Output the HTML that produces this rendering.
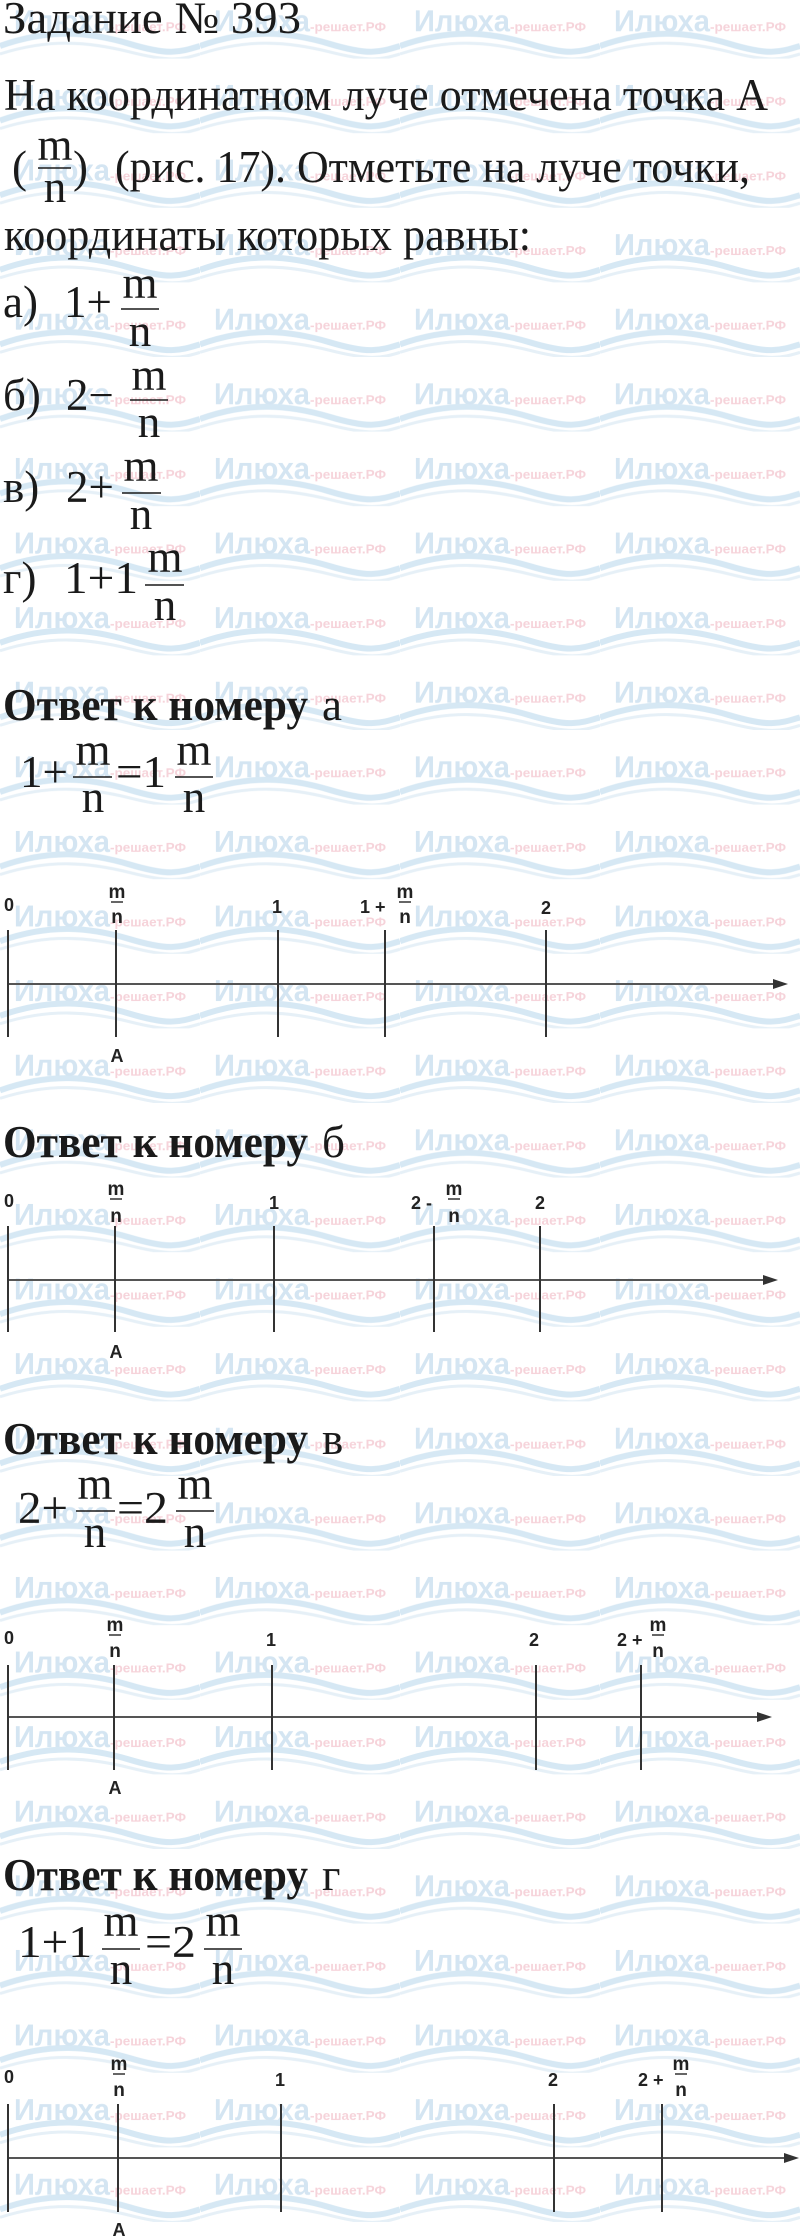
<!DOCTYPE html>
<html><head><meta charset="utf-8"><style>
html,body{margin:0;padding:0;background:#fff}
svg{display:block}
.s{font-family:"Liberation Serif",serif;font-size:45px;fill:#1a1a1a}
.b{font-weight:bold}
.a{font-family:"Liberation Sans",sans-serif;font-weight:bold;font-size:18px;fill:#222}
.af{font-family:"Liberation Sans",sans-serif;font-weight:bold;font-size:19px;fill:#222}
</style></head><body>
<svg width="800" height="2240" viewBox="0 0 800 2240" xmlns="http://www.w3.org/2000/svg">
<defs>
<pattern id="wm" x="0" y="-16" width="200" height="74.6" patternUnits="userSpaceOnUse">
<path d="M0 62 C50 44 90 48 130 60 S180 68 200 62" fill="none" stroke="#d6e8f4" stroke-width="6"/>
<path d="M0 70 C50 54 90 58 130 68 S180 76 200 70" fill="none" stroke="#e6f0f7" stroke-width="3"/>
<text x="14" y="47" font-family="Liberation Sans,sans-serif" font-weight="bold" font-size="30" fill="#d4e5f2" textLength="96" lengthAdjust="spacingAndGlyphs">Илюха</text>
<text x="110" y="47" font-family="Liberation Sans,sans-serif" font-weight="bold" font-size="13" fill="#f6d3da" textLength="76" lengthAdjust="spacingAndGlyphs">-решает.РФ</text>
</pattern>
</defs>
<rect width="800" height="2240" fill="url(#wm)"/>

<!-- problem text -->
<text class="s" x="3" y="33" textLength="298" lengthAdjust="spacingAndGlyphs">Задание № 393</text>
<text class="s" x="4" y="110" textLength="764" lengthAdjust="spacingAndGlyphs">На координатном луче отмечена точка А</text>
<text class="s" x="12" y="182" font-size="48">(</text>
<text class="s" x="55" y="160" text-anchor="middle">m</text>
<line x1="38" y1="168" x2="71" y2="168" stroke="#1a1a1a" stroke-width="1.6"/>
<text class="s" x="55" y="202" text-anchor="middle">n</text>
<text class="s" x="73" y="182" font-size="48">)</text>
<text class="s" x="115" y="182" textLength="635" lengthAdjust="spacingAndGlyphs">(рис. 17). Отметьте на луче точки,</text>
<text class="s" x="4" y="250" textLength="527" lengthAdjust="spacingAndGlyphs">координаты которых равны:</text>

<text class="s" x="3" y="317">а)</text>
<text class="s" x="64" y="317">1+</text>
<text class="s" x="140" y="298" text-anchor="middle">m</text>
<line x1="121" y1="309" x2="159" y2="309" stroke="#1a1a1a" stroke-width="1.6"/>
<text class="s" x="140" y="346" text-anchor="middle">n</text>

<text class="s" x="3" y="410">б)</text>
<text class="s" x="66" y="410">2−</text>
<text class="s" x="149" y="390" text-anchor="middle">m</text>
<line x1="130" y1="400" x2="168" y2="400" stroke="#1a1a1a" stroke-width="1.6"/>
<text class="s" x="149" y="437" text-anchor="middle">n</text>

<text class="s" x="3" y="502">в)</text>
<text class="s" x="66" y="502">2+</text>
<text class="s" x="141" y="481" text-anchor="middle">m</text>
<line x1="122" y1="493" x2="161" y2="493" stroke="#1a1a1a" stroke-width="1.6"/>
<text class="s" x="141" y="529" text-anchor="middle">n</text>

<text class="s" x="3" y="593">г)</text>
<text class="s" x="64" y="593" textLength="74" lengthAdjust="spacingAndGlyphs">1+1</text>
<text class="s" x="165" y="572" text-anchor="middle">m</text>
<line x1="145" y1="585" x2="184" y2="585" stroke="#1a1a1a" stroke-width="1.6"/>
<text class="s" x="165" y="620" text-anchor="middle">n</text>

<!-- answer a -->
<text class="s b" x="3" y="720" textLength="305" lengthAdjust="spacingAndGlyphs">Ответ к номеру</text>
<text class="s" x="322" y="720">а</text>
<text class="s" x="20" y="787" textLength="48" lengthAdjust="spacingAndGlyphs">1+</text>
<text class="s" x="93" y="765" text-anchor="middle">m</text>
<line x1="73" y1="777" x2="112" y2="777" stroke="#1a1a1a" stroke-width="1.6"/>
<text class="s" x="93" y="812" text-anchor="middle">n</text>
<text class="s" x="116" y="787" textLength="50" lengthAdjust="spacingAndGlyphs">=1</text>
<text class="s" x="194" y="765" text-anchor="middle">m</text>
<line x1="175" y1="777" x2="213" y2="777" stroke="#1a1a1a" stroke-width="1.6"/>
<text class="s" x="194" y="812" text-anchor="middle">n</text>

<g stroke="#333" stroke-width="2">
<line x1="8" y1="984" x2="778" y2="984" stroke="#555"/>
<line x1="8" y1="930" x2="8" y2="1037"/>
<line x1="116" y1="930" x2="116" y2="1037"/>
<line x1="278" y1="930" x2="278" y2="1037"/>
<line x1="385" y1="930" x2="385" y2="1037"/>
<line x1="546" y1="930" x2="546" y2="1037"/>
</g>
<polygon points="773,979 788,984 773,989" fill="#333"/>
<text class="a" x="4" y="911">0</text>
<text class="af" x="117" y="898" text-anchor="middle">m</text>
<line x1="111" y1="902" x2="123" y2="902" stroke="#333" stroke-width="1.5"/>
<text class="af" x="117" y="923" text-anchor="middle">n</text>
<text class="a" x="277" y="913" text-anchor="middle">1</text>
<text class="a" x="360" y="913">1 +</text>
<text class="af" x="405" y="898" text-anchor="middle">m</text>
<line x1="399" y1="902" x2="411" y2="902" stroke="#333" stroke-width="1.5"/>
<text class="af" x="405" y="923" text-anchor="middle">n</text>
<text class="a" x="546" y="914" text-anchor="middle">2</text>
<text class="a" x="117" y="1062" text-anchor="middle">A</text>

<!-- answer b -->
<text class="s b" x="3" y="1157" textLength="305" lengthAdjust="spacingAndGlyphs">Ответ к номеру</text>
<text class="s" x="322" y="1157">б</text>
<g stroke="#333" stroke-width="2">
<line x1="8" y1="1280" x2="768" y2="1280" stroke="#555"/>
<line x1="8" y1="1226" x2="8" y2="1332"/>
<line x1="115" y1="1226" x2="115" y2="1332"/>
<line x1="274" y1="1226" x2="274" y2="1332"/>
<line x1="434" y1="1226" x2="434" y2="1332"/>
<line x1="540" y1="1226" x2="540" y2="1332"/>
</g>
<polygon points="763,1275 778,1280 763,1285" fill="#333"/>
<text class="a" x="4" y="1207">0</text>
<text class="af" x="116" y="1195" text-anchor="middle">m</text>
<line x1="110" y1="1199" x2="122" y2="1199" stroke="#333" stroke-width="1.5"/>
<text class="af" x="116" y="1222" text-anchor="middle">n</text>
<text class="a" x="274" y="1209" text-anchor="middle">1</text>
<text class="a" x="411" y="1209">2 -</text>
<text class="af" x="454" y="1195" text-anchor="middle">m</text>
<line x1="448" y1="1199" x2="460" y2="1199" stroke="#333" stroke-width="1.5"/>
<text class="af" x="454" y="1222" text-anchor="middle">n</text>
<text class="a" x="540" y="1209" text-anchor="middle">2</text>
<text class="a" x="116" y="1358" text-anchor="middle">A</text>

<!-- answer v -->
<text class="s b" x="3" y="1454" textLength="305" lengthAdjust="spacingAndGlyphs">Ответ к номеру</text>
<text class="s" x="322" y="1454">в</text>
<text class="s" x="18" y="1523" textLength="50" lengthAdjust="spacingAndGlyphs">2+</text>
<text class="s" x="95" y="1499" text-anchor="middle">m</text>
<line x1="76" y1="1511" x2="115" y2="1511" stroke="#1a1a1a" stroke-width="1.6"/>
<text class="s" x="95" y="1547" text-anchor="middle">n</text>
<text class="s" x="117" y="1523" textLength="51" lengthAdjust="spacingAndGlyphs">=2</text>
<text class="s" x="195" y="1499" text-anchor="middle">m</text>
<line x1="176" y1="1511" x2="214" y2="1511" stroke="#1a1a1a" stroke-width="1.6"/>
<text class="s" x="195" y="1547" text-anchor="middle">n</text>

<g stroke="#333" stroke-width="2">
<line x1="8" y1="1717" x2="760" y2="1717" stroke="#555"/>
<line x1="8" y1="1665" x2="8" y2="1770"/>
<line x1="114" y1="1665" x2="114" y2="1770"/>
<line x1="272" y1="1665" x2="272" y2="1770"/>
<line x1="536" y1="1665" x2="536" y2="1770"/>
<line x1="641" y1="1665" x2="641" y2="1770"/>
</g>
<polygon points="757,1712 772,1717 757,1722" fill="#333"/>
<text class="a" x="4" y="1644">0</text>
<text class="af" x="115" y="1631" text-anchor="middle">m</text>
<line x1="109" y1="1635" x2="121" y2="1635" stroke="#333" stroke-width="1.5"/>
<text class="af" x="115" y="1657" text-anchor="middle">n</text>
<text class="a" x="271" y="1646" text-anchor="middle">1</text>
<text class="a" x="534" y="1646" text-anchor="middle">2</text>
<text class="a" x="617" y="1646">2 +</text>
<text class="af" x="658" y="1631" text-anchor="middle">m</text>
<line x1="652" y1="1635" x2="664" y2="1635" stroke="#333" stroke-width="1.5"/>
<text class="af" x="658" y="1657" text-anchor="middle">n</text>
<text class="a" x="115" y="1794" text-anchor="middle">A</text>

<!-- answer g -->
<text class="s b" x="3" y="1890" textLength="305" lengthAdjust="spacingAndGlyphs">Ответ к номеру</text>
<text class="s" x="322" y="1890">г</text>
<text class="s" x="18" y="1957" textLength="74" lengthAdjust="spacingAndGlyphs">1+1</text>
<text class="s" x="121" y="1936" text-anchor="middle">m</text>
<line x1="102" y1="1949" x2="140" y2="1949" stroke="#1a1a1a" stroke-width="1.6"/>
<text class="s" x="121" y="1984" text-anchor="middle">n</text>
<text class="s" x="145" y="1957" textLength="51" lengthAdjust="spacingAndGlyphs">=2</text>
<text class="s" x="223" y="1936" text-anchor="middle">m</text>
<line x1="204" y1="1949" x2="242" y2="1949" stroke="#1a1a1a" stroke-width="1.6"/>
<text class="s" x="223" y="1984" text-anchor="middle">n</text>

<g stroke="#333" stroke-width="2">
<line x1="8" y1="2158" x2="786" y2="2158" stroke="#555"/>
<line x1="8" y1="2104" x2="8" y2="2212"/>
<line x1="118" y1="2104" x2="118" y2="2212"/>
<line x1="281" y1="2104" x2="281" y2="2212"/>
<line x1="554" y1="2104" x2="554" y2="2212"/>
<line x1="662" y1="2104" x2="662" y2="2212"/>
</g>
<polygon points="784,2153 799,2158 784,2163" fill="#333"/>
<text class="a" x="4" y="2083">0</text>
<text class="af" x="119" y="2070" text-anchor="middle">m</text>
<line x1="113" y1="2074" x2="125" y2="2074" stroke="#333" stroke-width="1.5"/>
<text class="af" x="119" y="2096" text-anchor="middle">n</text>
<text class="a" x="280" y="2086" text-anchor="middle">1</text>
<text class="a" x="553" y="2086" text-anchor="middle">2</text>
<text class="a" x="638" y="2086">2 +</text>
<text class="af" x="681" y="2070" text-anchor="middle">m</text>
<line x1="675" y1="2074" x2="687" y2="2074" stroke="#333" stroke-width="1.5"/>
<text class="af" x="681" y="2096" text-anchor="middle">n</text>
<text class="a" x="119" y="2236" text-anchor="middle">A</text>
</svg>
</body></html>
